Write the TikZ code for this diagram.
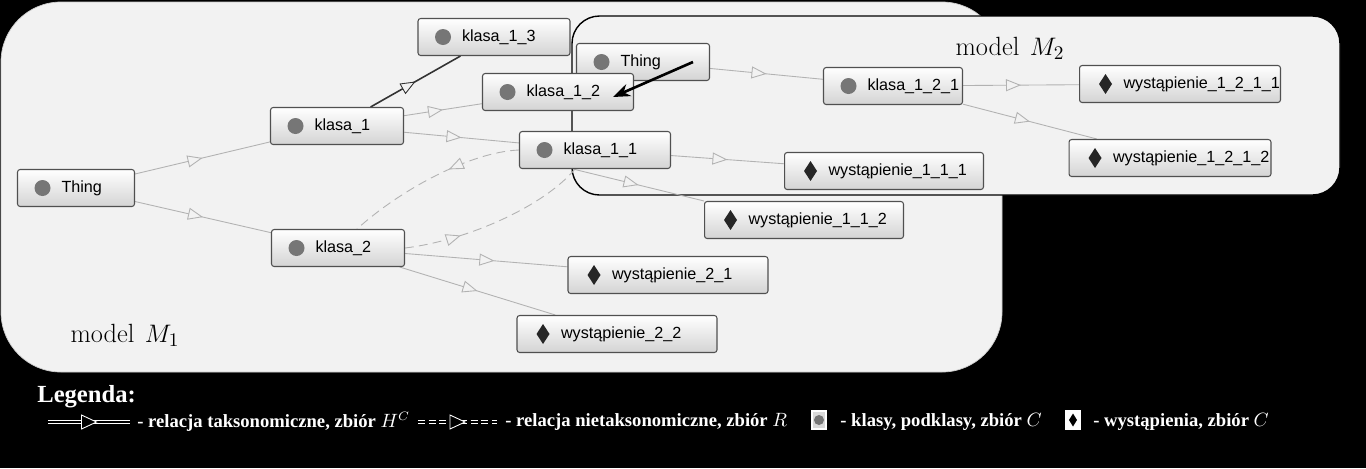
\documentclass[tikz,border=0pt]{standalone}
\usepackage{fontspec}
\newfontfamily\nodefont{Liberation Sans}
\newfontfamily\legfont{Liberation Serif}
\usetikzlibrary{arrows.meta,decorations.markings}
\pgfdeclarelayer{bg}
\pgfdeclarelayer{edges}
\pgfsetlayers{bg,edges,main}
\definecolor{bggray}{HTML}{F2F2F2}
\definecolor{edgegray}{HTML}{B2B2B2}
\definecolor{dotgray}{HTML}{767676}
\definecolor{boxline}{HTML}{505050}
\newcommand{\lab}[1]{\hspace*{0.68cm}\mbox{#1}}

\begin{document}
\begin{tikzpicture}[x=0.02cm,y=-0.02cm,>=Stealth,
  box/.style={draw=boxline,line width=0.6pt,rounded corners=1.5pt,top color=white,bottom color=black!17,
    minimum height=0.74cm,inner xsep=0.2cm,inner ysep=0pt,align=left,font=\nodefont\fontsize{9.2}{11}\selectfont},
  cls/.style={box,text width=#1,path picture={\fill[dotgray] ([xshift=0.5cm]path picture bounding box.west) circle (0.16cm);}},
  inst/.style={box,text width=#1,path picture={\fill[black!85,sharp corners] ([xshift=0.52cm]path picture bounding box.west)
    +(0,0.2cm) -- +(0.13cm,0) -- +(0,-0.2cm) -- +(-0.13cm,0) -- cycle;}},
  tax/.style={draw=edgegray,line width=0.5pt,postaction={decorate},
    decoration={markings,mark=at position #1 with {\arrow{Triangle[length=0.3cm,width=0.24cm,fill=bggray,line width=0.5pt]}}}},
  tax/.default=0.5,
  ntax/.style={tax=#1,dash pattern=on 5pt off 3pt},
  ntax/.default=0.5,
  model/.style={font=\fontsize{15}{18}\selectfont},
  legtext/.style={anchor=west,inner sep=0pt,text=white,font=\legfont\bfseries\fontsize{10.6}{13}\selectfont},
  legline/.style={draw=white,double=black,double distance=1.2pt,line width=0.5pt},
  legtri/.style={draw=white,fill=black,line width=0.5pt},
  legicon/.style={draw=white,fill=black!15,line width=0.6pt,minimum width=0.28cm,minimum height=0.36cm,inner sep=0pt}]

\begin{pgfonlayer}{bg}
\fill[black] (0,0) rectangle (1366,468);
\fill[bggray,draw=gray!40,rounded corners=1.2cm] (1,2) rectangle (1002,372);
\draw[fill=bggray,rounded corners=0.55cm,line width=0.8pt] (572,16) rectangle (1340,195);
\end{pgfonlayer}

\node[model] (m1) at (125,335) {model\hspace{0.4em}$M_1$};
\node[model] (m2) at (1010,48) {model\hspace{0.4em}$M_2$};

\node[cls=1.94cm] (thing) at (76,188) {\lab{Thing}};
\node[cls=2.26cm] (k1) at (337,126) {\lab{klasa\_1}};
\node[cls=2.26cm] (k2) at (338,248) {\lab{klasa\_2}};
\node[cls=2.64cm] (k13) at (494,37) {\lab{klasa\_1\_3}};
\node[cls=2.26cm] (thingb) at (643,62) {\lab{Thing}};
\node[cls=2.62cm] (k12) at (558,92) {\lab{klasa\_1\_2}};
\node[cls=2.62cm] (k11) at (595,150) {\lab{klasa\_1\_1}};
\node[inst=3.58cm] (w111) at (884,171) {\lab{wystąpienie\_1\_1\_1}};
\node[inst=3.58cm] (w112) at (804,220) {\lab{wystąpienie\_1\_1\_2}};
\node[inst=3.60cm] (w21) at (668,275) {\lab{wystąpienie\_2\_1}};
\node[inst=3.60cm] (w22) at (617,334) {\lab{wystąpienie\_2\_2}};
\node[cls=2.38cm] (k121) at (893,86) {\lab{klasa\_1\_2\_1}};
\node[inst=3.62cm] (w1211) at (1180,84) {\lab{wystąpienie\_1\_2\_1\_1}};
\node[inst=3.64cm] (w1212) at (1170,158) {\lab{wystąpienie\_1\_2\_1\_2}};

\begin{pgfonlayer}{edges}
\draw[tax] (thing) -- (k1);
\draw[tax] (thing) -- (k2);
\draw[tax,draw=black!80,line width=0.9pt] (k1) -- (k13);
\draw[tax] (k1) -- (k12);
\draw[tax] (k1) -- (k11);
\draw[tax] (k11) -- (w111);
\draw[tax] ([xshift=-0.44cm]k11.south) -- (w112.north west);
\draw[tax=0.55] (k2) -- (w21);
\draw[tax] (k2) -- (w22);
\draw[ntax=0.4] (k11.west) .. controls (470,152) and (400,190) .. ([xshift=0.38cm]k2.north);
\draw[ntax=0.3] (k2.east) .. controls (470,240) and (545,205) .. ([xshift=-0.4cm]k11.south);
\draw[tax] (thingb) -- (k121);
\draw[tax] (k121) -- (w1211);
\draw[tax] (k121) -- (w1212);
\end{pgfonlayer}

\draw[->,line width=1.5pt] ([xshift=1cm]thingb.center) -- ([xshift=1.1cm,yshift=-0.1cm]k12.center);

\node[legtext,font=\legfont\bfseries\fontsize{14}{16}\selectfont] (leg) at (37,397) {Legenda:};
\coordinate (ta) at (48,422);
\coordinate (tb) at (130,422);
\draw[legline] (ta) -- coordinate (tm) (tb);
\draw[legtri] ([xshift=-0.15cm,yshift=0.14cm]tm) -- ([xshift=0.15cm]tm) -- ([xshift=-0.15cm,yshift=-0.14cm]tm) -- cycle;
\node[legtext] (ltax) at (137,422) {- relacja taksonomiczne, zbiór $H^C$};
\coordinate (na) at (418,422);
\coordinate (nb) at (497,422);
\draw[legline,dash pattern=on 4pt off 2pt] (na) -- coordinate (nm) (nb);
\draw[legtri] ([xshift=-0.15cm,yshift=0.14cm]nm) -- ([xshift=0.15cm]nm) -- ([xshift=-0.15cm,yshift=-0.14cm]nm) -- cycle;
\node[legtext] (lntax) at (505,422) {- relacja nietaksonomiczne,\ zbiór $R$};
\node[legicon,path picture={\fill[dotgray] (path picture bounding box.center) circle (0.1cm);}] (lcls) at (819,420) {};
\node[legtext] (lclst) at (840,422) {- klasy, podklasy, zbiór $C$};
\node[legicon,fill=white,path picture={\fill[black] (path picture bounding box.center)
  +(0,0.13cm) -- +(0.08cm,0) -- +(0,-0.13cm) -- +(-0.08cm,0) -- cycle;}] (linst) at (1073,420) {};
\node[legtext] (linstt) at (1093,422) {- wystąpienia,\ zbiór $C$};
\end{tikzpicture}
\end{document}
